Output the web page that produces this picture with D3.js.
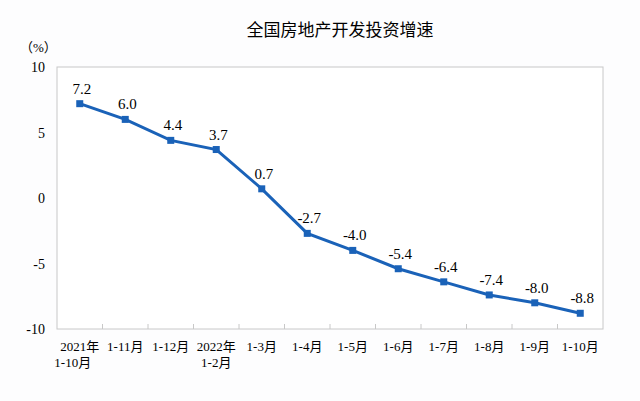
<!DOCTYPE html>
<html>
<head>
<meta charset="utf-8">
<script src="https://cdn.jsdelivr.net/npm/d3@7"></script>
<style>
  body { margin: 0; background: #fdfdfe; }
  text { font-family: "Liberation Serif", "Noto Sans CJK SC", serif; }
</style>
</head>
<body>
<div id="chart"></div>
<script>
// data
let categories = ["2021年|1-10月", "1-11月", "1-12月", "2022年|1-2月", "1-3月", "1-4月",
    "1-5月", "1-6月", "1-7月", "1-8月", "1-9月", "1-10月"];
let values = [7.2, 6.0, 4.4, 3.7, 0.7, -2.7, -4.0, -5.4, -6.4, -7.4, -8.0, -8.8];
let yTicks = [10, 5, 0, -5, -10];

let margin = {top: 67, right: 37, bottom: 72, left: 57};
let width = 640 - margin.left - margin.right;
let height = 401 - margin.top - margin.bottom;

let svg = d3.select("#chart").append("svg")
    .attr("width", 640).attr("height", 401);

svg.append("text")
    .attr("x", 340).attr("y", 36)
    .attr("text-anchor", "middle")
    .style("font-family", "'Noto Sans CJK SC', sans-serif")
    .style("font-size", "17px")
    .text("全国房地产开发投资增速");

svg.append("text")
    .attr("x", 20).attr("y", 52)
    .style("font-size", "13px")
    .text("（%）");

let g = svg.append("g").attr("transform", `translate(${margin.left},${margin.top})`);

let x = d3.scaleBand().domain(categories).range([0, width]);
let y = d3.scaleLinear().domain([-10, 10]).range([height, 0]);

// frame
g.append("rect")
    .attr("width", width).attr("height", height)
    .attr("fill", "#fff").attr("stroke", "#c8c8c8");

// y axis labels
g.selectAll(".ylab").data(yTicks).enter().append("text")
    .attr("x", -12).attr("y", d => y(d) + 5)
    .attr("text-anchor", "end")
    .style("font-size", "14px")
    .text(d => d);

// x ticks between bands
g.selectAll(".xtick").data(categories.slice(1)).enter().append("line")
    .attr("x1", d => x(d)).attr("x2", d => x(d))
    .attr("y1", height).attr("y2", height - 5)
    .attr("stroke", "#c8c8c8");

// x labels
categories.forEach(c => {
    let t = g.append("text")
        .attr("x", x(c) + x.bandwidth() / 2)
        .attr("y", height + 22)
        .attr("text-anchor", "middle")
        .style("font-size", "13px");
    c.split("|").forEach((s, i) => {
        t.append("tspan")
            .attr("x", x(c) + x.bandwidth() / 2 + (c.startsWith("2021") && i === 1 ? -7 : 0))
            .attr("dy", i === 0 ? 0 : 16)
            .text(s);
    });
});

let cx = (d, i) => x(categories[i]) + x.bandwidth() / 2;

g.append("path")
    .datum(values)
    .attr("fill", "none")
    .attr("stroke", "#1a62b8")
    .attr("stroke-width", 3)
    .attr("d", d3.line().x(cx).y(d => y(d)));

g.selectAll(".pt").data(values).enter().append("rect")
    .attr("x", (d, i) => cx(d, i) - 3.5)
    .attr("y", d => y(d) - 3.5)
    .attr("width", 7).attr("height", 7)
    .attr("fill", "#1a62b8");

g.selectAll(".vlab").data(values).enter().append("text")
    .attr("x", (d, i) => cx(d, i) + 2)
    .attr("y", d => y(d) - 10)
    .attr("text-anchor", "middle")
    .style("font-size", "15px")
    .text(d => d.toFixed(1));
</script>
</body>
</html>
